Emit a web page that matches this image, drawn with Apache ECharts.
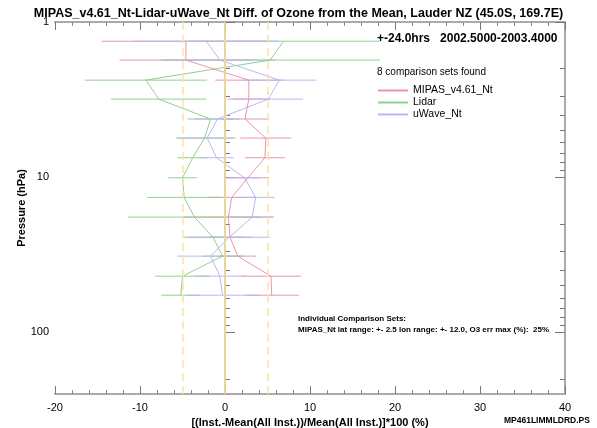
<!DOCTYPE html>
<html>
<head>
<meta charset="utf-8">
<script src="https://cdn.jsdelivr.net/npm/echarts@6/dist/echarts.min.js"></script>
<style>
  html, body { margin: 0; padding: 0; background: #fff; }
  #chart { width: 597px; height: 428px; }
</style>
</head>
<body>
<div id="chart"></div>
<script>
// pressure levels (hPa) of the comparison points
const levels = [1.33, 1.76, 2.37, 3.14, 4.22, 5.6, 7.5, 10.1, 13.5, 18.1, 24.4, 32.3, 43.5, 57.7];

// differences from the mean (%) and their error bars (half width, %)
const mipas = [-4.6, -4.6, 2.8, 2.8, 2.35, 4.8, 4.7, 2.7, 0.8, 0.4, 0.6, 1.5, 5.4, 5.5];
const mipasErr = [9.9, 7.8, 3.95, 2.5, 2.8, 3.0, 2.35, 2.5, 2.8, 5.35, 2.55, 2.15, 3.55, 3.2];
const lidar = [6.9, 5.3, -9.3, -7.8, -1.7, -2.4, -3.8, -5.0, -4.8, -3.6, -1.4, -0.3, -5.0, -5.2];
const lidarErr = [11.3, 12.9, 7.2, 5.6, 2.7, 3.4, 1.8, 1.7, 4.35, 7.8, 3.5, 2.3, 3.2, 2.3];
const uwave = [-2.2, -0.6, 6.4, 5.1, -0.9, -2.1, -1.0, 2.3, 3.6, 3.2, 0.5, -1.7, -0.6, -0.3];
const uwaveErr = [8.5, 6.5, 4.35, 4.1, 2.7, 3.4, 2.05, 1.9, 2.25, 2.45, 4.8, 3.9, 3.0, 4.3];

const seriesNames = ['MIPAS_v4.61_Nt', 'Lidar', 'uWave_Nt'];
const refLines = [-5, 0, 5];
const yMajor = [1, 10, 100];
const yMinor = [2, 3, 4, 5, 6, 7, 8, 9, 20, 30, 40, 50, 60, 70, 80, 90, 200];

const colors = ['#e896ac', '#8fd08f', '#b8b8f2'];
const font = 'Liberation Sans, Arial, sans-serif';

const chart = echarts.init(document.getElementById('chart'));

function errBars(name, vals, errs, color) {
    return {
        type: 'custom',
        name: name,
        data: levels.map((p, i) => [vals[i], p, errs[i]]),
        encode: { x: 0, y: 1 },
        itemStyle: { color: color },
        renderItem: (params, api) => {
            const c = api.value(0), p = api.value(1), e = api.value(2);
            const a = api.coord([c - e, p]);
            const b = api.coord([c + e, p]);
            return {
                type: 'line',
                shape: { x1: a[0], y1: a[1], x2: b[0], y2: b[1] },
                style: { stroke: api.visual('color'), fill: null, lineWidth: 1 },
            };
        },
        z: 2,
    };
}

function profile(name, vals, color) {
    return {
        type: 'line',
        name: name,
        data: levels.map((p, i) => [vals[i], p]),
        showSymbol: false,
        symbol: 'none',
        lineStyle: { color: color, width: 1 },
        itemStyle: { color: color },
        z: 3,
    };
}

const xBase = {
    type: 'value',
    min: -20,
    max: 40,
    interval: 10,
    axisLine: { lineStyle: { color: '#aaa', width: 2 } },
    axisTick: { inside: true, length: 8, lineStyle: { color: '#777' } },
    minorTick: { show: true, splitNumber: 5, length: 4, lineStyle: { color: '#888' } },
    splitLine: { show: false },
};

const yBase = {
    type: 'log',
    logBase: 10,
    inverse: true,
    min: 1,
    max: 250,
    splitLine: { show: false },
};

const option = {
    animation: false,
    title: {
        text: 'MIPAS_v4.61_Nt-Lidar-uWave_Nt Diff. of Ozone from the Mean, Lauder NZ (45.0S, 169.7E)',
        left: 'center',
        top: 2,
        textStyle: { fontFamily: font, fontSize: 12.5, fontWeight: 'bold', color: '#000' },
    },
    grid: { left: 55, right: 32, top: 22, bottom: 34, outerBoundsMode: 'none' },
    legend: {
        data: seriesNames,
        orient: 'vertical',
        left: 373,
        top: 80,
        itemWidth: 30,
        itemHeight: 2,
        itemGap: 1,
        icon: 'rect',
        textStyle: { fontFamily: font, fontSize: 10.5, color: '#000' },
        selectedMode: false,
    },
    xAxis: [
        Object.assign({}, xBase, {
            position: 'bottom',
            name: '[(Inst.-Mean(All Inst.))/Mean(All Inst.)]*100 (%)',
            nameLocation: 'middle',
            nameGap: 20,
            nameTextStyle: { fontFamily: font, fontSize: 11, fontWeight: 'bold', color: '#000' },
            axisLabel: { fontFamily: font, fontSize: 11, color: '#000', margin: 8 },
        }),
        Object.assign({}, xBase, { position: 'top', axisLabel: { show: false } }),
    ],
    yAxis: [
        Object.assign({}, yBase, {
            position: 'left',
            name: 'Pressure (hPa)',
            nameLocation: 'middle',
            nameGap: 28,
            nameMoveOverlap: false,
            nameTextStyle: { fontFamily: font, fontSize: 11, fontWeight: 'bold', color: '#000' },
            axisLine: { lineStyle: { color: '#aaa', width: 2 } },
            axisTick: { inside: true, length: 10, customValues: yMajor, lineStyle: { color: '#777' } },
            axisLabel: { customValues: yMajor, fontFamily: font, fontSize: 11, color: '#000', margin: 6 },
        }),
        Object.assign({}, yBase, {
            position: 'left',
            axisLine: { show: false },
            axisTick: { inside: true, length: 5, customValues: yMinor, lineStyle: { color: '#777' } },
            axisLabel: { show: false },
        }),
        Object.assign({}, yBase, {
            position: 'right',
            axisLine: { lineStyle: { color: '#aaa', width: 2 } },
            axisTick: { inside: true, length: 10, customValues: yMajor, lineStyle: { color: '#777' } },
            axisLabel: { show: false },
        }),
        Object.assign({}, yBase, {
            position: 'right',
            axisLine: { show: false },
            axisTick: { inside: true, length: 5, customValues: yMinor, lineStyle: { color: '#777' } },
            axisLabel: { show: false },
        }),
    ],
    series: [
        {
            type: 'line',
            name: 'ref',
            data: [],
            markLine: {
                silent: true,
                symbol: 'none',
                label: { show: false },
                data: refLines.map(v => ({
                    xAxis: v,
                    lineStyle: { color: '#fde59a', width: 1.5, type: v === 0 ? 'solid' : [8, 5] },
                })),
            },
            z: 1,
        },
        errBars(seriesNames[0], mipas, mipasErr, colors[0]),
        errBars(seriesNames[1], lidar, lidarErr, colors[1]),
        errBars(seriesNames[2], uwave, uwaveErr, colors[2]),
        profile(seriesNames[1], lidar, colors[1]),
        profile(seriesNames[2], uwave, colors[2]),
        profile(seriesNames[0], mipas, colors[0]),
    ],
    graphic: [
        {
            type: 'text', left: 377, top: 33,
            style: { text: '+-24.0hrs   2002.5000-2003.4000', font: 'bold 12px ' + font, fill: '#000' },
        },
        {
            type: 'text', left: 377, top: 67,
            style: { text: '8 comparison sets found', font: '10px ' + font, fill: '#000' },
        },
        {
            type: 'text', left: 298, top: 315,
            style: { text: 'Individual Comparison Sets:', font: 'bold 8px ' + font, fill: '#000' },
        },
        {
            type: 'text', left: 298, top: 326,
            style: { text: 'MIPAS_Nt lat range: +- 2.5 lon range: +- 12.0, O3 err max (%):  25%', font: 'bold 8px ' + font, fill: '#000' },
        },
        {
            type: 'text', left: 504, top: 416,
            style: { text: 'MP461LIMMLDRD.PS', font: 'bold 8.5px ' + font, fill: '#000' },
        },
    ],
};

chart.setOption(option);
</script>
</body>
</html>
